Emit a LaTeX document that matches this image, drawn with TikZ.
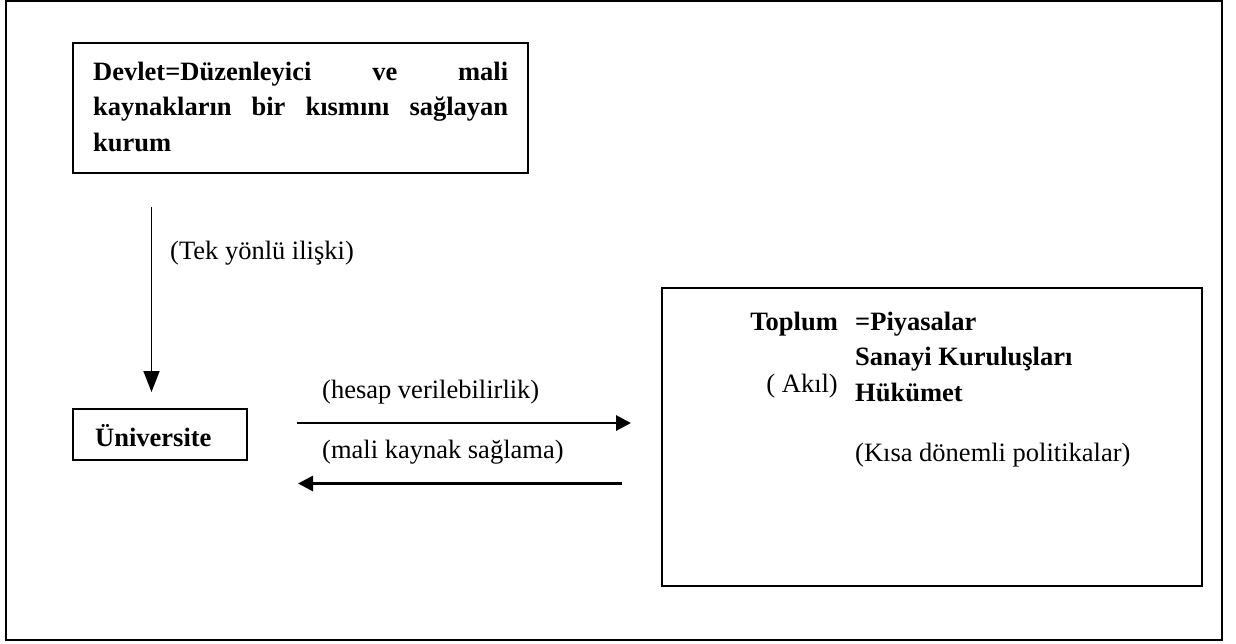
\documentclass[tikz,border=0pt]{standalone}
\usepackage{fontspec}
\setmainfont{Liberation Serif}
\usetikzlibrary{arrows.meta}
\begin{document}
\begin{tikzpicture}[x=1pt,y=-1pt,
  box/.style={draw,line width=1.3pt,rectangle,inner sep=0pt},
  txt/.style={inner sep=0pt,anchor=base west,font=\fontsize{26.5}{35.5}\selectfont},
  btxt/.style={txt,font=\fontsize{26.5}{35.5}\selectfont\bfseries},
  thinarrow/.style={line width=1.6pt,-{Triangle[length=21pt,width=16pt]}},
  thickarrow/.style={line width=2.8pt,-{Triangle[length=15pt,width=15pt]}}]
\useasboundingbox (0,0) rectangle (1236,643);
\draw[line width=2pt] (5.5,1) rectangle (1222,640);
% boxes
\node[box,minimum width=455pt,minimum height=130pt] (devlet) at (300.5,108) {};
\node[btxt,text width=415pt,align=left] (d1) at (93,80)
  {Devlet=Düzenleyici\hfill ve\hfill mali};
\node[btxt,text width=415pt,align=left] (d2) at (93,115.5)
  {kaynakların\hfill bir\hfill kısmını\hfill sağlayan};
\node[btxt] (d3) at (93,151) {kurum};
\node[box,minimum width=174pt,minimum height=51pt] (uni) at (160,434.5) {};
\node[btxt] (unitext) at (95,446) {Üniversite};
\node[box,minimum width=540pt,minimum height=298pt] (toplum) at (932,437) {};
% toplum text
\node[btxt,anchor=base east] (t1) at (838,330.5) {Toplum};
\node[txt,anchor=base east] (akil) at (838,392) {( Akıl)};
\node[btxt] (t2) at (855,330.5) {=Piyasalar};
\node[btxt] (t3) at (855,365.5) {Sanayi Kuruluşları};
\node[btxt] (t4) at (855,401) {Hükümet};
\node[txt] (kisa) at (855,461) {(Kısa dönemli politikalar)};
% arrows
\coordinate (v1) at (151.5,207);
\coordinate (v2) at (151.5,392);
\draw[thinarrow] (v1) -- (v2);
\node[txt] (tek) at (170,259) {(Tek yönlü ilişki)};
\coordinate (r1) at (296.5,423);
\coordinate (r2) at (631,423);
\draw[thickarrow] (r1) -- (r2);
\coordinate (l1) at (622,483.5);
\coordinate (l2) at (298,483.5);
\draw[thickarrow] (l1) -- (l2);
\node[txt] (hesap) at (322,398) {(hesap verilebilirlik)};
\node[txt] (mali) at (322,458.5) {(mali kaynak sağlama)};
\end{tikzpicture}
\end{document}
